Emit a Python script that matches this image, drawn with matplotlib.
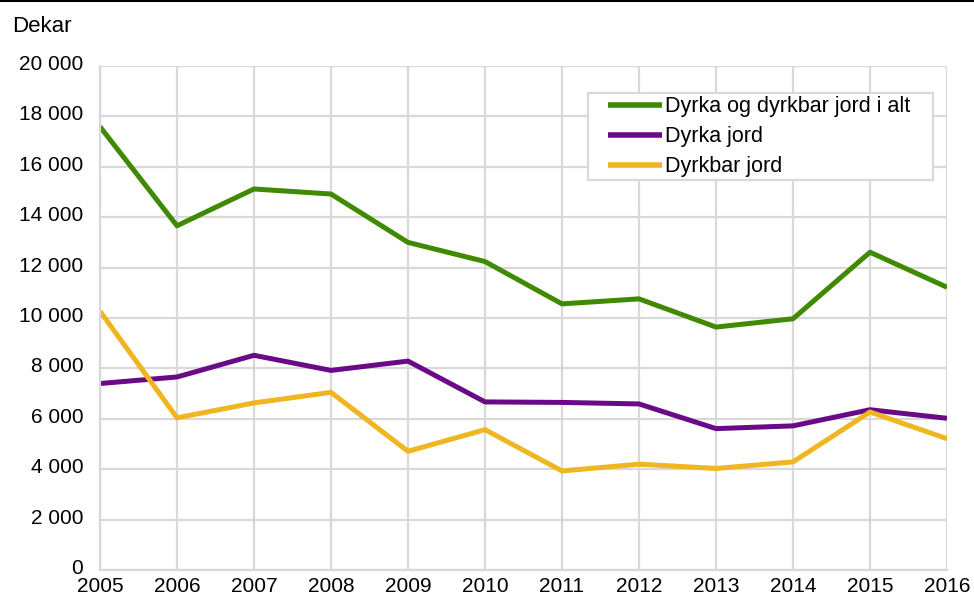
import matplotlib
matplotlib.use('Agg')
import matplotlib.pyplot as plt
from matplotlib.patches import Rectangle
from matplotlib.ticker import FuncFormatter
from matplotlib.transforms import ScaledTranslation

plt.rcParams['font.family'] = ['Liberation Sans', 'DejaVu Sans']

aar = [2005, 2006, 2007, 2008, 2009, 2010, 2011, 2012, 2013, 2014, 2015, 2016]
i_alt = [17590, 13660, 15120, 14920, 13000, 12240, 10560, 10760, 9640, 9970, 12610, 11220]
dyrka = [7400, 7660, 8520, 7920, 8290, 6670, 6650, 6590, 5610, 5720, 6360, 6020]
dyrkbar = [10270, 6040, 6630, 7050, 4710, 5570, 3930, 4200, 4030, 4290, 6270, 5210]

serier = ['Dyrka og dyrkbar jord i alt', 'Dyrka jord', 'Dyrkbar jord']
farger = ['#3f8a00', '#6a0a86', '#efb621']

fig = plt.figure(figsize=(9.74, 5.97), dpi=100)
ax = fig.add_axes([100/974, 1 - 570/597, 847/974, 504/597])

for verdier, navn, farge in zip([i_alt, dyrka, dyrkbar], serier, farger):
    ax.plot(aar, verdier, color=farge, lw=3.6, label=navn, solid_capstyle='butt')

ax.set_xlim(2005, 2016)
ax.set_ylim(0, 20000)
ax.set_xticks(aar)
ax.set_yticks(range(0, 20001, 2000))
ax.yaxis.set_major_formatter(FuncFormatter(lambda v, p: '{:,}'.format(int(v)).replace(',', ' ')))
ax.grid(True, color='#d9d9d9', lw=1.6)
ax.set_axisbelow(True)
for s in ax.spines.values():
    s.set_visible(False)
for side in ['left', 'bottom']:
    ax.spines[side].set_visible(True)
    ax.spines[side].set_color('#d9d9d9')
    ax.spines[side].set_linewidth(1.6)
ax.tick_params(length=0, labelsize=15, colors='black')
ax.tick_params(axis='y', pad=12)
ax.tick_params(axis='x', pad=5)

# y-etikettene litt opp, slik at 0 ikke kolliderer med 2005
opp = ScaledTranslation(0, 2.5/72, fig.dpi_scale_trans)
for tick in ax.yaxis.get_major_ticks():
    tick.label1.set_transform(tick.label1.get_transform() + opp)

# legend box drawn by hand (wider side padding than legend allows)
ax.add_patch(Rectangle((588/974, 1 - 180/597), 345/974, 87/597, transform=fig.transFigure,
                       facecolor='white', edgecolor='#d9d9d9', lw=1.6, zorder=4, clip_on=False))
leg = ax.legend(loc='upper left', bbox_to_anchor=(0.5998, 0.9395), borderaxespad=0,
                fontsize=15.5, frameon=False, handlelength=2.5, handletextpad=0.14,
                borderpad=0, labelspacing=0.41)
for h in leg.get_lines():
    h.set_linewidth(4)

fig.text(12/974, 1 - 26/597, 'Dekar', fontsize=16, va='center', ha='left')
fig.add_artist(plt.Line2D([0, 1], [0.998, 0.998], color='black', lw=1.5, transform=fig.transFigure))

fig.savefig('out.png', dpi=100)
